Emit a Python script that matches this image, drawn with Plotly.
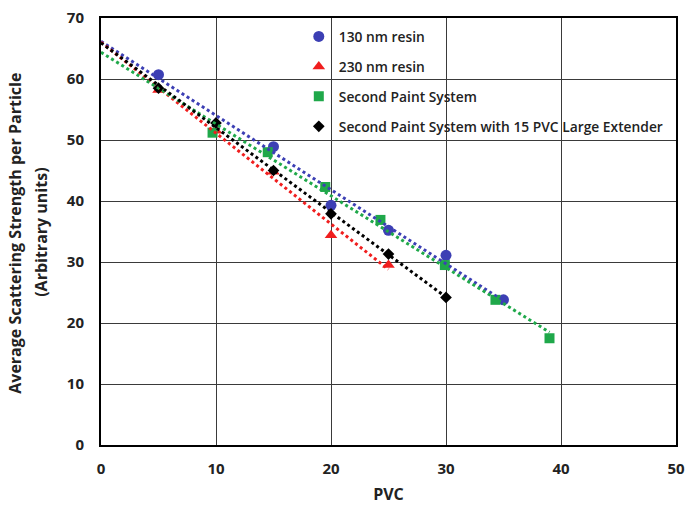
import numpy as np
import plotly.graph_objects as go

# PVC vs. average scattering strength per particle
pvc_130 = [5, 15, 20, 25, 30, 35]
scat_130 = [60.7, 48.9, 39.3, 35.2, 31.1, 23.8]

pvc_230 = [5, 10, 15, 20, 25]
scat_230 = [58.2, 51.5, 44.8, 34.4, 29.5]

pvc_second = [9.7, 14.5, 19.5, 24.3, 29.9, 34.3, 39.0]
scat_second = [51.2, 48.0, 42.3, 36.9, 29.5, 23.8, 17.5]

pvc_ext = [5, 10, 15, 20, 25, 30]
scat_ext = [58.5, 52.8, 45.0, 37.9, 31.3, 24.2]

x_ticks = [0, 10, 20, 30, 40, 50]
y_ticks = [0, 10, 20, 30, 40, 50, 60, 70]

y_title_lines = ["Average Scattering Strength per Particle", "(Arbitrary units)"]

series = [
    ("130 nm resin", pvc_130, scat_130, "#3C3FB4", "circle", 11),
    ("230 nm resin", pvc_230, scat_230, "#F01E1E", "triangle-up", 11),
    ("Second Paint System", pvc_second, scat_second, "#1FA84A", "square", 10),
    ("Second Paint System with 15 PVC Large Extender", pvc_ext, scat_ext, "#000000", "diamond", 9),
]

FONT = "Open Sans"
TEXT = "#222222"

fig = go.Figure()

for i, (name, xs, ys, color, symbol, size) in enumerate(series):
    fig.add_trace(go.Scatter(
        x=xs, y=ys, mode="markers", name=name,
        legendgroup=f"g{i}",
        marker=dict(color=color, symbol=symbol, size=size, line=dict(width=0)),
    ))

# linear trend lines, extended back to PVC = 0
for i, (name, xs, ys, color, symbol, size) in enumerate(series):
    slope, intercept = np.polyfit(xs, ys, 1)
    xl = np.array([0.0, max(xs)])
    fig.add_trace(go.Scatter(
        x=xl, y=slope * xl + intercept, mode="lines",
        line=dict(color=color, width=3, dash="dot"),
        showlegend=False, hoverinfo="skip",
    ))

# white panel behind the legend hides the grid there
fig.add_shape(type="rect", xref="paper", yref="paper",
              x0=0.365, x1=1.0, y0=0.707, y1=1.0,
              fillcolor="white", line=dict(width=0), layer="between")

# two-line rotated y-axis title
for line_text, xpos in zip(y_title_lines, [-0.1496, -0.1043]):
    fig.add_annotation(
        text=f"<b>{line_text}</b>", textangle=-90,
        xref="paper", yref="paper", x=xpos, y=0.497,
        xanchor="center", yanchor="middle", showarrow=False,
        font=dict(family=FONT, size=16, color=TEXT),
    )

fig.update_layout(
    width=687, height=507,
    margin=dict(l=101, r=11, t=18, b=62),
    paper_bgcolor="white", plot_bgcolor="white",
    font=dict(family=FONT, color=TEXT),
    showlegend=True,
    legend=dict(
        x=0.344, y=0.993, xanchor="left", yanchor="top",
        bgcolor="rgba(0,0,0,0)", borderwidth=0,
        font=dict(family=FONT, size=13.8, color=TEXT, weight=600),
        tracegroupgap=9, itemwidth=30,
    ),
)

fig.update_xaxes(
    range=[0, 50], tickvals=x_ticks, ticks="", automargin=False,
    showgrid=True, gridcolor="#3a3a3a", gridwidth=1,
    showline=True, linecolor="black", linewidth=2, mirror=True,
    zeroline=False, ticklabelstandoff=9,
    tickfont=dict(family=FONT, size=15, color=TEXT, weight="bold"),
    title=dict(text="<b>PVC</b>", font=dict(family=FONT, size=16, color=TEXT), standoff=12),
)
fig.update_yaxes(
    range=[0, 70], tickvals=y_ticks, ticks="", automargin=False,
    showgrid=True, gridcolor="#3a3a3a", gridwidth=1,
    showline=True, linecolor="black", linewidth=2, mirror=True,
    zeroline=False, ticklabelstandoff=12,
    tickfont=dict(family=FONT, size=15, color=TEXT, weight="bold"),
)

fig.write_html("out.html")
